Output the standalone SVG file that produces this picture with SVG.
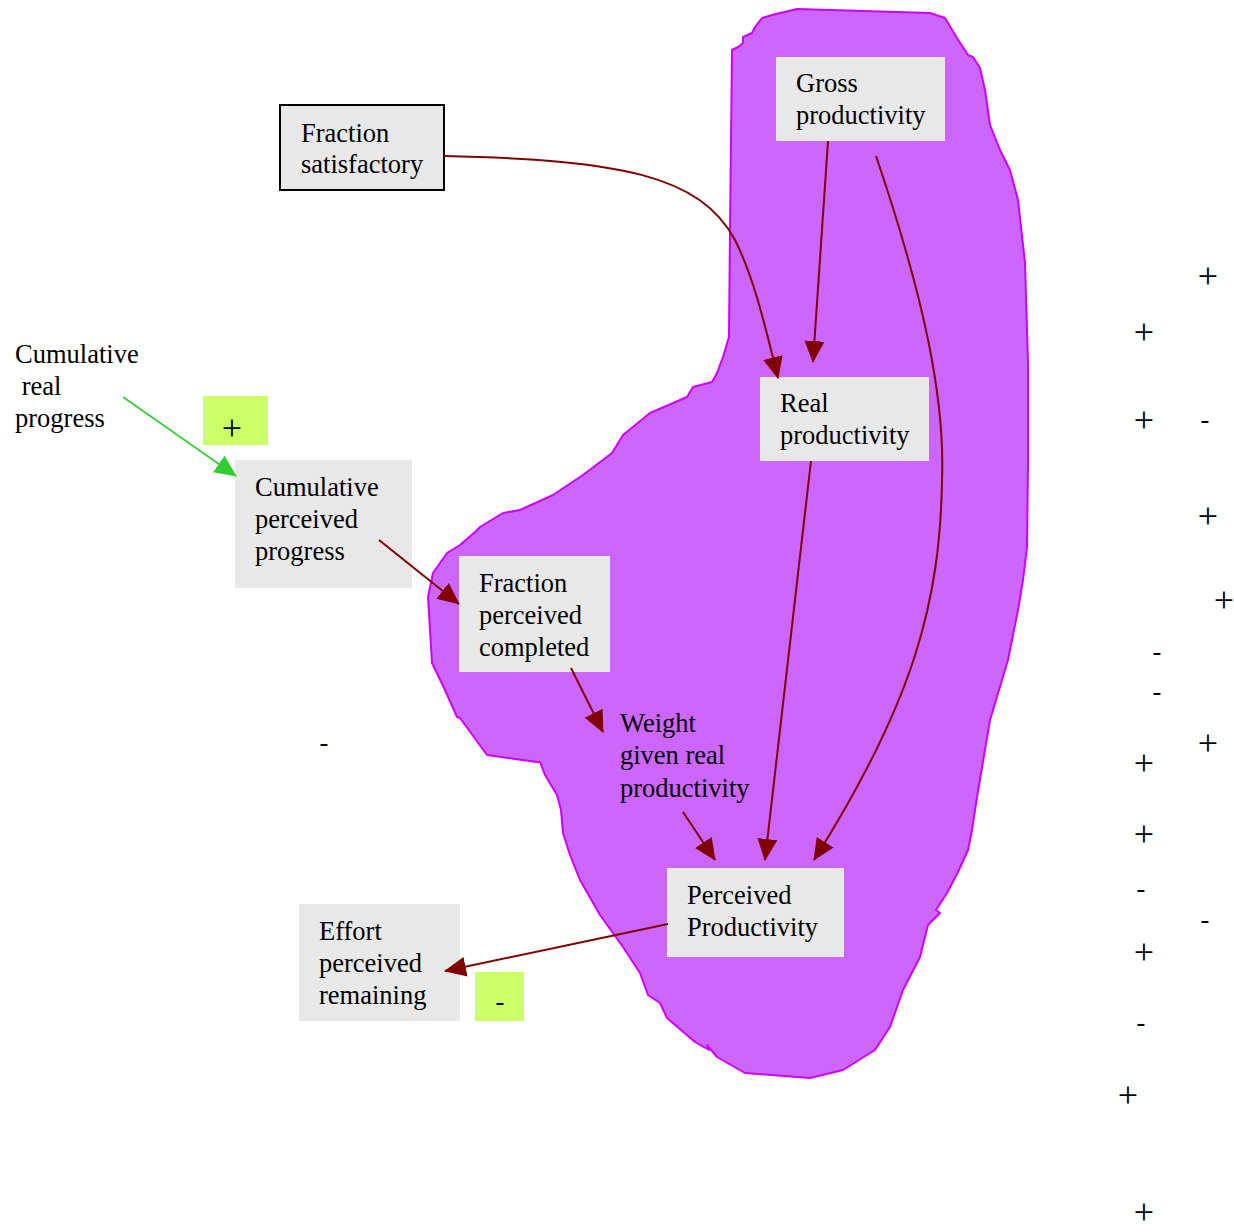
<svg xmlns="http://www.w3.org/2000/svg" width="1234" height="1232" viewBox="0 0 1234 1232">
<defs>
<style>
.t{font-family:"Liberation Serif","Times New Roman",serif;font-size:26.5px;fill:#000}
.s{font-family:"Liberation Serif","Times New Roman",serif;font-size:26.5px;fill:#000;text-anchor:middle}
.p{font-family:"Liberation Serif","Times New Roman",serif;font-size:36px;fill:#000;text-anchor:middle}
.box{fill:#e8e8e8}
.lk{fill:none;stroke:#800000;stroke-width:2}
.lkg{fill:none;stroke:#33cc33;stroke-width:1.6}
.pol{fill:#ccff66}
</style>
<marker id="ar" markerUnits="userSpaceOnUse" markerWidth="22" markerHeight="22" viewBox="0 0 22 22" refX="21" refY="11" orient="auto"><path d="M0,1 L22,11 L0,21 Z" fill="#800000"/></marker>
<marker id="ag" markerUnits="userSpaceOnUse" markerWidth="22" markerHeight="22" viewBox="0 0 22 22" refX="21" refY="11" orient="auto"><path d="M0,1 L22,11 L0,21 Z" fill="#33cc33"/></marker>
</defs>
<rect width="1234" height="1232" fill="#fff"/>
<g id="cloud">
<path d="M732,50 L738,47 L743,43 L743,37 L752,33 L755,27 L762,18 L772,15 L797,9 L930,13 L945,18 L957,38 L968,55 L973,57 L980,68 L985,90 L990,125 L1000,150 L1010,170 L1018,200 L1025,263 L1028,363 L1028,463 L1027,547 L1023,580 L1018,610 L1008,660 L990,720 L977,797 L972,830 L968,850 L958,872 L947,893 L936,910 L940,913 L928,925 L920,957 L903,990 L890,1027 L875,1050 L843,1070 L810,1078 L745,1073 L717,1057 L707,1045 L709,1050 L695,1042 L667,1018 L660,1003 L648,995 L640,973 L623,947 L600,915 L580,880 L570,855 L563,833 L561,810 L557,795 L545,775 L540,762 L537,762 L487,755 L460,718 L457,717 L445,690 L432,663 L430,630 L428,597 L433,573 L447,553 L460,545 L475,532 L480,527 L503,513 L520,510 L553,495 L583,475 L612,453 L623,435 L650,413 L687,397 L693,387 L712,382 L717,373 L723,357 L729,337 L730,230 Z" fill="#cc66ff" stroke="#cc00ff" stroke-width="2" stroke-linejoin="round"/>
</g>
<g id="n_fraction_satisfactory">
<rect x="280" y="105" width="164" height="85" class="box" stroke="#000" stroke-width="2"/>
<text class="t" x="301" y="142">Fraction</text>
<text class="t" x="301" y="173">satisfactory</text>
</g>
<g id="n_gross_productivity">
<rect x="776" y="57" width="169" height="84" class="box"/>
<text class="t" x="796" y="92">Gross</text>
<text class="t" x="796" y="124">productivity</text>
</g>
<g id="n_real_productivity">
<rect x="760" y="377" width="169" height="84" class="box"/>
<text class="t" x="780" y="412">Real</text>
<text class="t" x="780" y="444">productivity</text>
</g>
<g id="n_cumulative_real_progress">
<text class="t" x="15" y="363">Cumulative</text>
<text class="t" x="15" y="395" xml:space="preserve"> real</text>
<text class="t" x="15" y="427">progress</text>
</g>
<g id="n_cumulative_perceived_progress">
<rect x="235" y="460" width="177" height="128" class="box"/>
<text class="t" x="255" y="496">Cumulative</text>
<text class="t" x="255" y="528">perceived</text>
<text class="t" x="255" y="560">progress</text>
</g>
<g id="n_fraction_perceived_completed">
<rect x="459" y="556" width="151" height="116" class="box"/>
<text class="t" x="479" y="592">Fraction</text>
<text class="t" x="479" y="624">perceived</text>
<text class="t" x="479" y="656">completed</text>
</g>
<g id="n_weight">
<text class="t" x="620" y="732">Weight</text>
<text class="t" x="620" y="764">given real</text>
<text class="t" x="620" y="797">productivity</text>
</g>
<g id="n_perceived_productivity">
<rect x="667" y="868" width="177" height="89" class="box"/>
<text class="t" x="687" y="904">Perceived</text>
<text class="t" x="687" y="936">Productivity</text>
</g>
<g id="n_effort_perceived_remaining">
<rect x="299" y="904" width="161" height="117" class="box"/>
<text class="t" x="319" y="940">Effort</text>
<text class="t" x="319" y="972">perceived</text>
<text class="t" x="319" y="1004">remaining</text>
</g>
<g id="connectors">
<path class="lk" d="M444,156 C620,160 700,175 735,240 C755,280 766,330 778,378" marker-end="url(#ar)"/>
<path class="lk" d="M828,141 L813,362" marker-end="url(#ar)"/>
<path class="lk" d="M876,156 C925,300 945,400 942,480 C940,600 915,700 814,860" marker-end="url(#ar)"/>
<path class="lk" d="M811,461 L765,860" marker-end="url(#ar)"/>
<path class="lkg" d="M123,397 L236,476" marker-end="url(#ag)"/>
<path class="lk" d="M379,540 L459,604" marker-end="url(#ar)"/>
<path class="lk" d="M571,668 L603,732" marker-end="url(#ar)"/>
<path class="lk" d="M683,812 L715,860" marker-end="url(#ar)"/>
<path class="lk" d="M668,924 L445,971" marker-end="url(#ar)"/>
</g>
<g id="polarities">
<rect x="203" y="396" width="65" height="49" class="pol"/>
<text class="p" x="232" y="440">+</text>
<rect x="475" y="972" width="49" height="49" class="pol"/>
<text class="s" x="500" y="1010">-</text>
<text class="s" x="324" y="751">-</text>
<text class="p" x="1208" y="288">+</text>
<text class="p" x="1144" y="344">+</text>
<text class="p" x="1144" y="432">+</text>
<text class="s" x="1205" y="428">-</text>
<text class="p" x="1208" y="528">+</text>
<text class="p" x="1224" y="612">+</text>
<text class="s" x="1157" y="660">-</text>
<text class="s" x="1157" y="700">-</text>
<text class="p" x="1208" y="755">+</text>
<text class="p" x="1144" y="775">+</text>
<text class="p" x="1144" y="846">+</text>
<text class="s" x="1141" y="897">-</text>
<text class="s" x="1205" y="928">-</text>
<text class="p" x="1144" y="964">+</text>
<text class="s" x="1141" y="1031">-</text>
<text class="p" x="1128" y="1107">+</text>
<text class="p" x="1144" y="1224">+</text>
</g>
</svg>
